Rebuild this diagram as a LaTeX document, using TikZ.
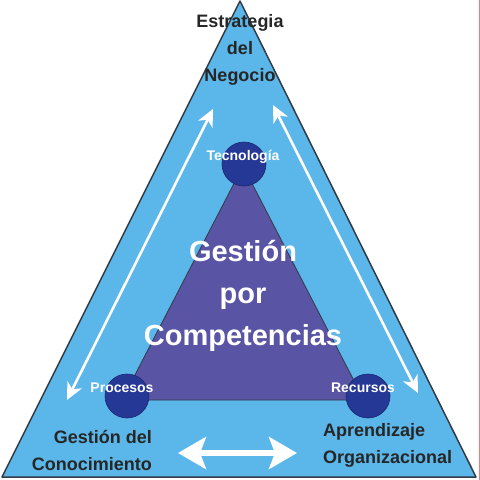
\documentclass[tikz,border=0pt]{standalone}
\usepackage{fontspec}
\setmainfont{Liberation Sans}
\usetikzlibrary{arrows.meta}
\definecolor{skyb}{RGB}{91,182,234}
\definecolor{purp}{RGB}{90,84,164}
\definecolor{navyc}{RGB}{38,56,150}
\definecolor{edgec}{RGB}{50,60,70}
\begin{document}
\begin{tikzpicture}[x=1pt,y=-1pt,
  hub/.style={circle,fill=navyc,draw=navyc!70!black,line width=0.6pt,minimum size=44pt,inner sep=0pt},
  wlab/.style={text=white,inner sep=0pt,font=\bfseries\fontsize{14}{16}\selectfont},
  blab/.style={text=black!85,inner sep=0pt,font=\bfseries\fontsize{18}{27}\selectfont},
  bigw/.style={text=white,inner sep=0pt,align=center,font=\bfseries\fontsize{29}{42}\selectfont},
  sidearrow/.style={draw=white,line width=2.6pt,{Stealth[length=17pt,width=16pt,inset=5pt]}-{Stealth[length=17pt,width=16pt,inset=5pt]}},
  bottomarrow/.style={draw=white,line width=6pt,{Stealth[length=28pt,width=32pt,inset=6pt]}-{Stealth[length=28pt,width=32pt,inset=6pt]}}
]
\useasboundingbox (0,0) rectangle (480,480);
% outer triangle
\coordinate (A) at (240,1);
\coordinate (BL) at (2,477);
\coordinate (BR) at (476,477);
\draw[fill=skyb,draw=edgec,line width=1.5pt,line join=round] (A)--(BL)--(BR)--cycle;
% inner triangle
\coordinate (IA) at (243,166);
\coordinate (IL) at (122,400);
\coordinate (IR) at (364,400);
\draw[fill=purp,draw=edgec,line width=0.8pt] (IA)--(IL)--(IR)--cycle;
% hubs
\node[hub] (tec) at (244,164) {};
\node[hub] (pro) at (127,396) {};
\node[hub] (rec) at (368,396) {};
% arrows
\coordinate (l1) at (67,400);
\coordinate (l2) at (213,109);
\coordinate (r1) at (273,105);
\coordinate (r2) at (418,393);
\coordinate (b1) at (178,453);
\coordinate (b2) at (297,453);
\draw[sidearrow] (l1) -- (l2);
\draw[sidearrow] (r1) -- (r2);
\draw[bottomarrow] (b1) -- (b2);
% labels
\node[wlab] (tect) at (243,157) {Tecnología};
\node[wlab] (prot) at (122,388) {Procesos};
\node[wlab] (rect) at (363,388) {Recursos};
\node[bigw] (center) at (243,296) {Gestión\\por\\Competencias};
\node[blab,align=center] (top) at (240,50) {Estrategia\\del\\Negocio};
\node[blab,align=right,anchor=east] (gc) at (152,450) {Gestión del\\Conocimiento};
\node[blab,align=left,anchor=west] (ao) at (323,445) {Aprendizaje\\Organizacional};
% right border line
\draw[red!55,line width=1pt] (479,0) -- (479,480);
\end{tikzpicture}
\end{document}
